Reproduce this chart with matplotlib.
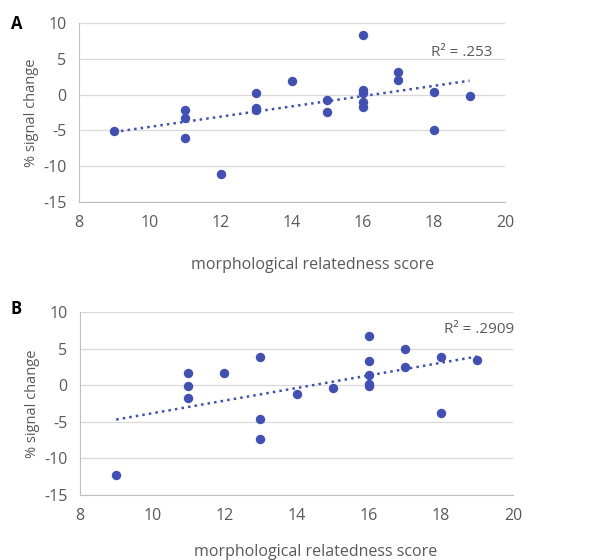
import numpy as np
import matplotlib.pyplot as plt

# panel A
xa = [9, 11, 11, 11, 12, 13, 13, 13, 14, 15, 15, 16, 16, 16, 16, 16, 17, 17, 18, 18, 19]
ya = [-5.1, -2.1, -3.3, -6.0, -11.1, 0.2, -1.9, -2.1, 1.9, -0.75, -2.4, 8.3, 0.65, 0.25,
      -1.0, -1.7, 3.2, 2.0, 0.35, -4.9, -0.2]
r2_a = "R² = .253"

# panel B
xb = [9, 11, 11, 11, 12, 13, 13, 13, 14, 15, 16, 16, 16, 16, 16, 17, 17, 18, 18, 19]
yb = [-12.3, 1.65, -0.05, -1.8, 1.65, 3.8, -4.6, -7.4, -1.25, -0.35, 6.65, 3.3, 1.4, 0.1,
      -0.1, 4.9, 2.5, 3.8, -3.8, 3.5]
r2_b = "R² = .2909"

xticks = [8, 10, 12, 14, 16, 18, 20]
yticks = [-15, -10, -5, 0, 5, 10]

plt.rcParams['font.family'] = ['Open Sans', 'DejaVu Sans']
plt.rcParams['axes.unicode_minus'] = False
dot = '#4050b5'
grey = '#595959'

fig = plt.figure(figsize=(6.07, 5.6), dpi=100)


def panel(rect, x, y, r2, r2_pos, letter, letter_y, xlabel_x, xlabel_y):
    ax = fig.add_axes(rect)
    ax.scatter(x, y, s=46, color=dot, zorder=3, linewidths=0)
    k, b = np.polyfit(x, y, 1)
    fx = np.array([min(x), max(x)])
    ax.plot(fx, k * fx + b, ':', color=dot, lw=1.8, zorder=2)
    ax.set_xlim(8, 20)
    ax.set_ylim(-15, 10)
    ax.set_xticks(xticks)
    ax.set_yticks(yticks)
    ax.grid(axis='y', color='#d9d9d9', lw=0.9)
    ax.set_axisbelow(True)
    for s in ['top', 'right']:
        ax.spines[s].set_visible(False)
    for s in ['left', 'bottom']:
        ax.spines[s].set_color('#bfbfbf')
    ax.tick_params(length=0, colors=grey, labelsize=11.5, pad=9)
    ax.set_ylabel('% signal change', color=grey, fontsize=10.5, labelpad=3)
    ax.text(r2_pos[0], r2_pos[1], r2, ha='right', va='center', color=grey, fontsize=11)
    fig.text(0.018, letter_y, letter, fontsize=12, fontweight='bold', va='center')
    fig.text(xlabel_x, xlabel_y, 'morphological relatedness score', ha='center', va='center',
             color=grey, fontsize=11.5)
    return ax


panel([0.130, 0.639, 0.702, 0.320], xa, ya, r2_a, (19.65, 5.85), 'A', 0.958, 0.515, 0.527)
panel([0.132, 0.116, 0.713, 0.327], xb, yb, r2_b, (20.05, 7.6), 'B', 0.449, 0.52, 0.015)

fig.savefig('out.png', dpi=100)
